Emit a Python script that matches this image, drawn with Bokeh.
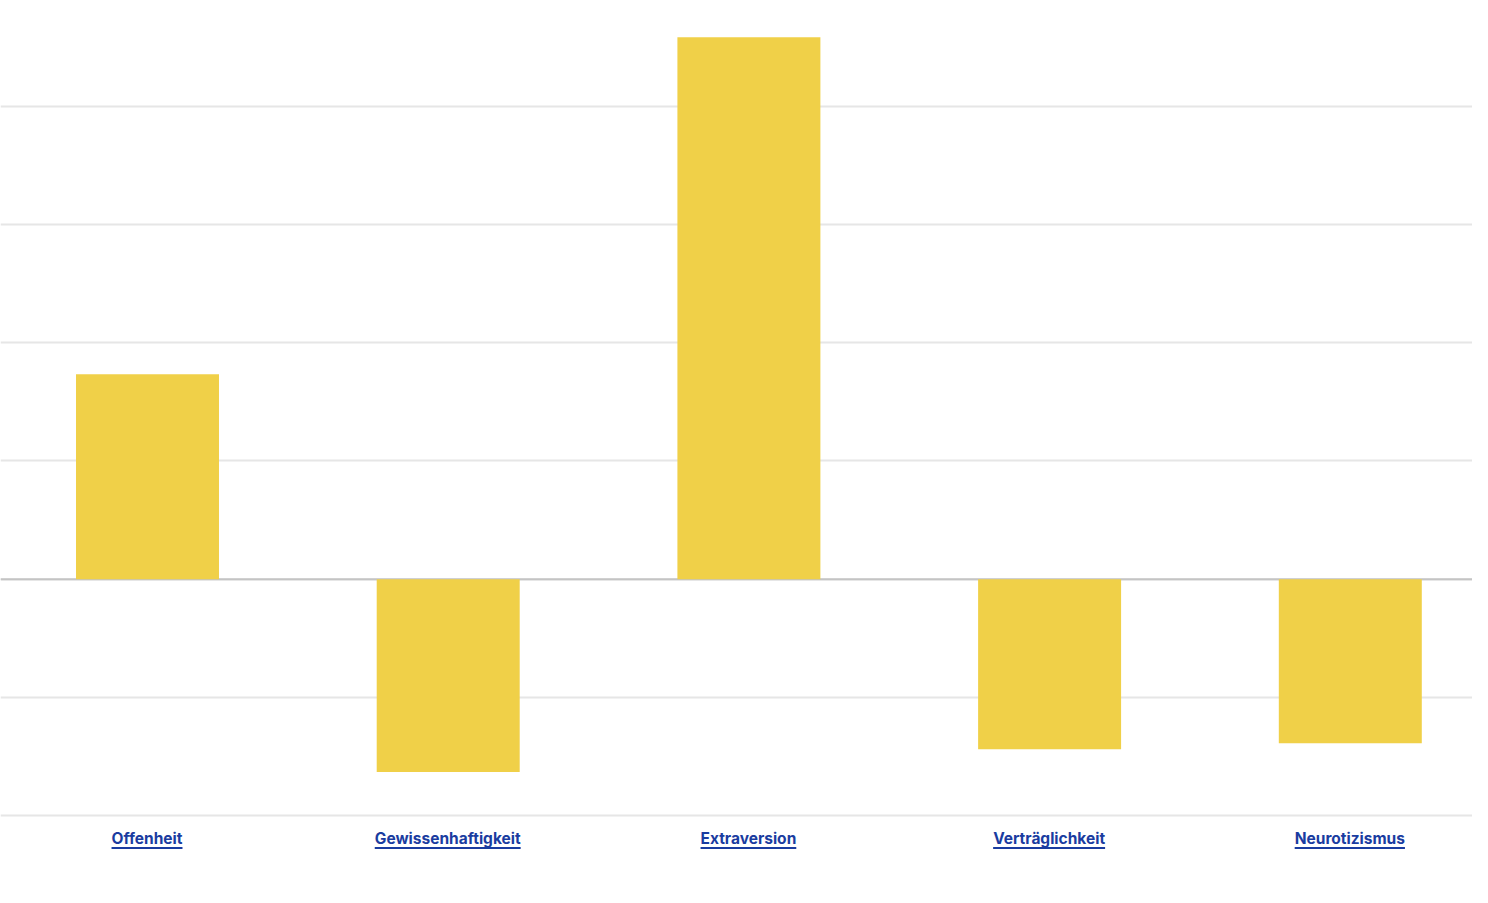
from bokeh.plotting import figure
from bokeh.models import Range1d, FixedTicker, Span, Div, ColumnDataSource
from bokeh.layouts import column
from bokeh.embed import file_html
from bokeh.resources import INLINE

categories = ["Offenheit", "Gewissenhaftigkeit", "Extraversion", "Verträglichkeit", "Neurotizismus"]
values = [1.735, -1.633, 4.587, -1.439, -1.388]
grid_ticks = [-2, -1, 0, 1, 2, 3, 4]

BAR = "#F0D048"
LABEL = "#1a3ca0"
W = 1472
UNIT_PX = 300.7          # horizontal pixels per category slot
FRAME_H = 817

positions = list(range(len(categories)))
src = ColumnDataSource(dict(x=positions, val=values, cat=categories))

x_start = -147 / UNIT_PX
p = figure(width=W, height=FRAME_H, output_backend="svg", toolbar_location=None,
           x_range=Range1d(x_start, x_start + W / UNIT_PX),
           y_range=Range1d(-2.017, 4.897),
           min_border=0, min_border_left=0, min_border_right=0,
           min_border_top=0, min_border_bottom=0)
p.outline_line_color = None
p.background_fill_color = "white"
p.border_fill_color = "white"

p.ygrid.level = "underlay"
p.vbar(x="x", top="val", bottom=0, width=0.4755, source=src,
       fill_color=BAR, line_color=None)

p.yaxis.ticker = FixedTicker(ticks=grid_ticks)
p.xaxis.visible = False
p.yaxis.visible = False
p.xgrid.grid_line_color = None
p.ygrid.grid_line_color = "#e6e6e6"
p.ygrid.grid_line_width = 2

zero = Span(location=0, dimension="width", line_color="#c4c4c4", line_width=2, level="underlay")
p.add_layout(zero)

spans = "".join(
    f'<div style="flex:1 1 0;text-align:center;white-space:nowrap;">'
    f'<a href="#" style="color:{LABEL};font-family:Inter, sans-serif;font-weight:700;'
    f'font-size:15.5px;text-decoration:underline;text-underline-offset:3px;'
    f'text-decoration-thickness:2px;">{c}</a></div>'
    for c in categories
)
labels = Div(text=(f'<div style="width:{W}px;overflow:hidden;">'
                   f'<div style="display:flex;width:{5 * UNIT_PX}px;margin-left:{147 - UNIT_PX / 2}px;'
                   f'padding-top:11px;">{spans}</div></div>'),
             width=W, height=70, margin=0)

layout = column(p, labels, spacing=0)

open("out.html", "w").write(file_html(layout, INLINE))
